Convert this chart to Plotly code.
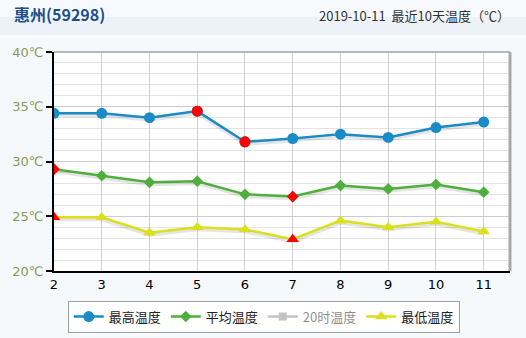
import plotly.graph_objects as go

days = [2, 3, 4, 5, 6, 7, 8, 9, 10, 11]
max_temp = [34.4, 34.4, 34.0, 34.6, 31.8, 32.1, 32.5, 32.2, 33.1, 33.6]
avg_temp = [29.3, 28.7, 28.1, 28.2, 27.0, 26.8, 27.8, 27.5, 27.9, 27.2]
t20_temp = [None] * 10
min_temp = [24.9, 24.9, 23.5, 24.0, 23.8, 22.9, 24.6, 24.0, 24.5, 23.6]
y_ticks = [20, 25, 30, 35, 40]
y_labels = ["20℃", "25℃", "30℃", "35℃", "40℃"]

title = "惠州(59298)"
subtitle = "2019-10-11  最近10天温度（℃）"

FONT = "Tahoma, 'DejaVu Sans', 'Noto Sans CJK SC', sans-serif"
CJK = "'Microsoft YaHei', 'Noto Sans CJK SC', sans-serif"


def extremes(vals):
    return [vals.index(max(vals)), vals.index(min(vals))]


fig = go.Figure()

series = [
    ("最高温度", max_temp, "#1a8bc6", "circle", 11),
    ("平均温度", avg_temp, "#4faf3c", "diamond", 9),
    ("最低温度", min_temp, "#dbe01c", "triangle-up", 11),
]

# shadows
for name, vals, col, sym, sz in series:
    fig.add_trace(go.Scatter(
        x=days, y=[v - 0.18 for v in vals], mode="lines",
        line=dict(color="rgba(0,0,0,0.10)", width=4),
        showlegend=False, hoverinfo="skip"))

for name, vals, col, sym, sz in series:
    fig.add_trace(go.Scatter(
        x=days, y=vals, mode="lines+markers", name=name,
        line=dict(color=col, width=2.5),
        marker=dict(symbol=sym, size=sz, color=col, line=dict(width=0)),
    ))
    ex = extremes(vals)
    fig.add_trace(go.Scatter(
        x=[days[i] for i in ex], y=[vals[i] for i in ex], mode="markers",
        marker=dict(symbol=sym, size=sz, color="#ff0000", line=dict(width=0)),
        showlegend=False, hoverinfo="skip",
    ))
    if name == "平均温度":
        fig.add_trace(go.Scatter(
            x=days, y=t20_temp, mode="lines+markers", name="20时温度",
            line=dict(color="#888888", width=2.5),
            marker=dict(symbol="square", size=8, color="#888888"),
            visible="legendonly",
        ))

fig.update_layout(
    width=526, height=338,
    margin=dict(l=54, r=16, t=52, b=67, autoexpand=False),
    paper_bgcolor="#f6f9fc",
    plot_bgcolor="#ffffff",
    font=dict(family=FONT, size=13, color="#000"),
    showlegend=True,
    legend=dict(
        orientation="h", x=0.46, xanchor="center", y=-0.135, yanchor="top",
        bgcolor="#ffffff", bordercolor="#a0a0a0", borderwidth=1,
        font=dict(family=CJK, size=13, color="#222"),
        tracegroupgap=0,
    ),
    xaxis=dict(
        range=[2, 11.55], tickmode="array", tickvals=days,
        ticktext=[str(d) for d in days],
        showgrid=True, gridcolor="#d3d3d3", gridwidth=1,
        showline=True, linecolor="#000", linewidth=2,
        ticks="", zeroline=False, mirror=False,
        tickfont=dict(family=FONT, size=13, color="#000"),
    ),
    yaxis=dict(
        range=[20, 40], tickmode="array", tickvals=y_ticks, ticktext=y_labels,
        showgrid=True, gridcolor="#cccccc", gridwidth=1,
        minor=dict(dtick=1, showgrid=True, gridcolor="#e4e4e4", gridwidth=1),
        showline=True, linecolor="#000", linewidth=2,
        ticks="outside", ticklen=6, tickcolor="#000", tickwidth=2,
        zeroline=False,
        tickfont=dict(family=FONT, size=13, color="#8c9a56"),
    ),
)

# header band
fig.add_shape(type="rect", xref="paper", yref="paper",
              x0=-54 / 456, x1=1 + 16 / 456, y0=1 + 17 / 219, y1=1 + 52 / 219,
              fillcolor="#edf2f8", line=dict(width=0), layer="below")
fig.add_shape(type="rect", xref="paper", yref="paper",
              x0=-54 / 456, x1=1 + 16 / 456, y0=1 + 35 / 219, y1=1 + 52 / 219,
              fillcolor="#f7f9fc", line=dict(width=0), layer="below")
fig.add_shape(type="line", xref="paper", yref="paper",
              x0=-54 / 456, x1=1 + 16 / 456, y0=1 + 16 / 219, y1=1 + 16 / 219,
              line=dict(color="#ffffff", width=2))
# plot frame top/right grey border
fig.add_shape(type="line", xref="paper", yref="paper", x0=0, x1=1, y0=1, y1=1,
              line=dict(color="#b8b8b8", width=2))
fig.add_shape(type="line", xref="paper", yref="paper", x0=1, x1=1, y0=0, y1=1,
              line=dict(color="#a8a8a8", width=3))

fig.add_annotation(text="<b>" + title + "</b>", xref="paper", yref="paper",
                   x=-42 / 456, y=1 + 38 / 219, xanchor="left", yanchor="middle",
                   showarrow=False, font=dict(family=CJK, size=16, color="#1d4f8a"))
fig.add_annotation(text=subtitle, xref="paper", yref="paper",
                   x=1 + 2 / 456, y=1 + 37 / 219, xanchor="right", yanchor="middle",
                   showarrow=False, font=dict(family=CJK, size=13, color="#333333"))

fig.write_html("out.html")
